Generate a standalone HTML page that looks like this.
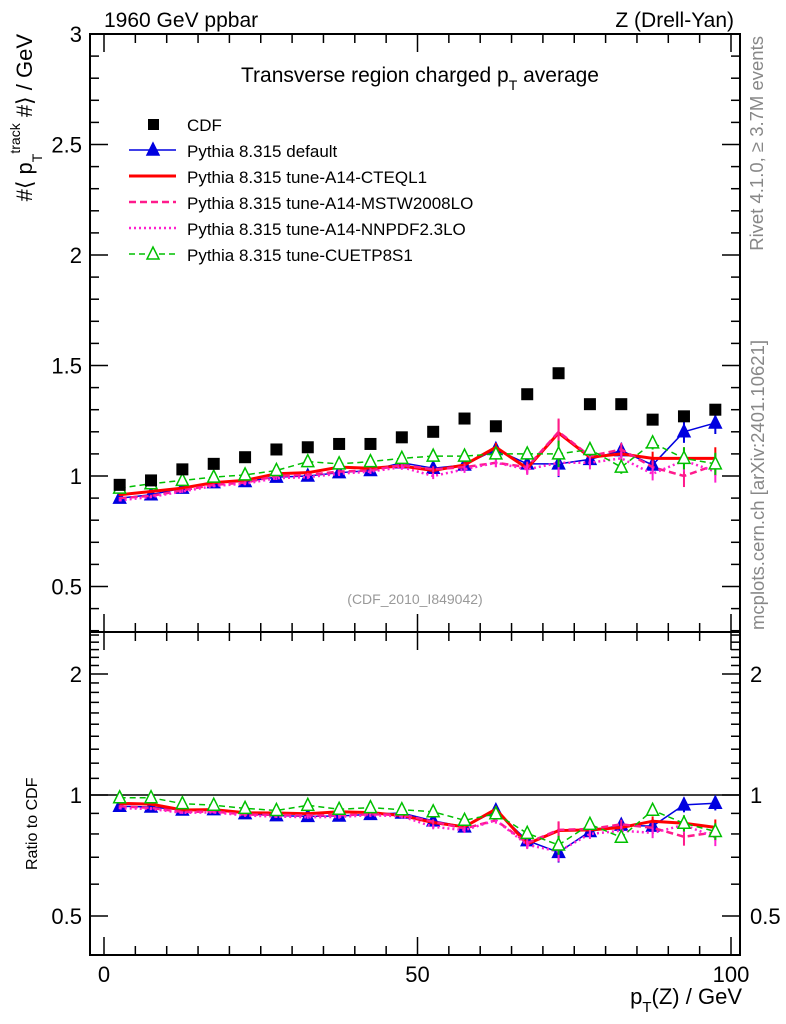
<!DOCTYPE html>
<html><head><meta charset="utf-8"><style>
body{margin:0;background:#fff;}
svg{display:block;font-family:"Liberation Sans",Arial,sans-serif;}
</style></head><body>
<svg id="c" width="786" height="1024" viewBox="0 0 786 1024"></svg>
<script>
const ptBins=[2.5,7.5,12.5,17.5,22.5,27.5,32.5,37.5,42.5,47.5,52.5,57.5,62.5,67.5,72.5,77.5,82.5,87.5,92.5,97.5];
const cdfVals=[0.96,0.98,1.03,1.055,1.085,1.12,1.13,1.145,1.145,1.175,1.20,1.26,1.225,1.37,1.465,1.325,1.325,1.255,1.27,1.30];
const defVals=[0.90,0.915,0.945,0.97,0.975,0.995,1.0,1.015,1.025,1.06,1.035,1.05,1.12,1.055,1.055,1.075,1.115,1.05,1.20,1.24];
const cteqVals=[0.915,0.93,0.945,0.97,0.98,1.01,1.015,1.04,1.035,1.045,1.025,1.05,1.13,1.035,1.195,1.085,1.10,1.08,1.08,1.08];
const mstwVals=[0.90,0.91,0.935,0.96,0.97,1.0,1.005,1.02,1.025,1.05,1.03,1.04,1.06,1.04,1.20,1.09,1.12,1.04,1.0,1.05];
const nnpdfVals=[0.89,0.905,0.93,0.955,0.965,0.99,0.995,1.01,1.02,1.04,1.0,1.03,1.06,1.03,1.06,1.06,1.08,1.01,1.07,1.02];
const cuetVals=[0.945,0.965,0.98,0.995,1.005,1.025,1.065,1.055,1.065,1.08,1.09,1.09,1.10,1.10,1.10,1.12,1.04,1.15,1.08,1.055];
const mcErr=[0.005,0.005,0.006,0.006,0.007,0.008,0.009,0.01,0.011,0.012,0.014,0.016,0.02,0.025,0.06,0.03,0.03,0.03,0.05,0.05];
const mainTicks=[0.5,1,1.5,2,2.5,3];
const ratioTicks=[0.5,1,2];
const xTicks=[0,50,100];

const NS='http://www.w3.org/2000/svg';
const svg=document.getElementById('c');
function el(t,a,p){const e=document.createElementNS(NS,t);for(const k in a)e.setAttribute(k,a[k]);(p||svg).appendChild(e);return e;}
const X=v=>104+v*6.27;
const Y=v=>476-(v-1)*221;
const R=v=>795-Math.log2(v)*121;
const L=90,Rr=740,T=34,MB=632,B=955;

const fm=el('rect',{x:L,y:T,width:Rr-L,height:MB-T,fill:'none',stroke:'#000','stroke-width':2});

const fr=el('rect',{x:L,y:MB,width:Rr-L,height:B-MB,fill:'none',stroke:'#000','stroke-width':2});


for(let v=0;v<=100;v+=5){const big=v%50===0;const l=big?18:9;
 [[T,1],[MB,-1],[MB,1],[B,-1]].forEach(([y0,d])=>el('line',{x1:X(v),x2:X(v),y1:y0,y2:y0+d*l,stroke:'#000','stroke-width':1.5}));}
xTicks.forEach(v=>{const t=el('text',{x:X(v),y:982,'text-anchor':'middle','font-size':22});t.textContent=v;
 });
for(let v=0.3;v<=3.001;v+=0.1){const vv=Math.round(v*10)/10;const big=Math.abs(vv*2-Math.round(vv*2))<1e-6;const l=big?18:9;
 el('line',{x1:L,x2:L+l,y1:Y(vv),y2:Y(vv),stroke:'#000','stroke-width':1.5});
 el('line',{x1:Rr,x2:Rr-l,y1:Y(vv),y2:Y(vv),stroke:'#000','stroke-width':1.5});}
mainTicks.forEach(v=>{const t=el('text',{x:82,y:Y(v)+8,'text-anchor':'end','font-size':22});t.textContent=String(v);
 });
[0.4,0.5,0.6,0.7,0.8,0.9,1,1.1,1.2,1.3,1.4,1.5,1.6,1.7,1.8,1.9,2,2.1,2.2,2.3,2.4,2.5].forEach(v=>{
 const big=ratioTicks.includes(v);const l=big?18:9;
 el('line',{x1:L,x2:L+l,y1:R(v),y2:R(v),stroke:'#000','stroke-width':1.5});
 el('line',{x1:Rr,x2:Rr-l,y1:R(v),y2:R(v),stroke:'#000','stroke-width':1.5});});
ratioTicks.forEach(v=>{[[82,'end'],[750,'start']].forEach(([x,a])=>{const t=el('text',{x:x,y:R(v)+8,'text-anchor':a,'font-size':22});t.textContent=String(v);
 });});
el('line',{x1:L,x2:Rr,y1:R(1),y2:R(1),stroke:'#000','stroke-width':1.5});

function txt(s,a,name){const t=el('text',a);t.innerHTML=s;return t;}
txt('1960 GeV ppbar',{x:104,y:27,'font-size':21},'energy-label');
txt('Z (Drell-Yan)',{x:734,y:27,'font-size':21,'text-anchor':'end'},'process-label');
txt('Transverse region charged p<tspan dy="8" font-size="14">T</tspan><tspan dy="-8"> average</tspan>',{x:420,y:82,'font-size':21,'text-anchor':'middle'},'plot-title');
txt('(CDF_2010_I849042)',{x:415,y:604,'font-size':14,fill:'#999','text-anchor':'middle'},'analysis-label');
txt('p<tspan dy="8" font-size="15">T</tspan><tspan dy="-8">(Z) / GeV</tspan>',{x:742,y:1004,'font-size':22,'text-anchor':'end'},'x-axis-title');
txt('#⟨ p<tspan dy="10" font-size="14">T</tspan><tspan dy="-22" font-size="14">track</tspan><tspan dy="12"> #⟩ / GeV</tspan>',{x:0,y:0,'font-size':22,'text-anchor':'end',transform:'translate(32,34) rotate(-90)'},'y-axis-title');
txt('Ratio to CDF',{x:0,y:0,'font-size':16,'text-anchor':'start',transform:'translate(37,870) rotate(-90)'},'ratio-axis-title');
txt('Rivet 4.1.0, ≥ 3.7M events',{x:0,y:0,'font-size':18.5,fill:'#888','text-anchor':'end',transform:'translate(763,36) rotate(-90)'},'rivet-label');
txt('mcplots.cern.ch [arXiv:2401.10621]',{x:0,y:0,'font-size':18.5,fill:'#888',transform:'translate(764,630) rotate(-90)'},'mcplots-label');

const series=[
 {name:'default',vals:defVals,col:'#0000e0',w:1.5,dash:'',mk:'tri'},
 {name:'cteql1',vals:cteqVals,col:'#ff0000',w:3,dash:'',mk:'none'},
 {name:'mstw',vals:mstwVals,col:'#ff1a8c',w:2.5,dash:'7,4',mk:'none'},
 {name:'nnpdf',vals:nnpdfVals,col:'#ff20d0',w:2.5,dash:'2,3',mk:'none'},
 {name:'cuetp8s1',vals:cuetVals,col:'#00c000',w:1.5,dash:'6,4',mk:'otri'}];
function tri(g,x,y,c,fill){el('polygon',{points:`${x},${y-7} ${x-6},${y+5} ${x+6},${y+5}`,fill:fill?c:'#fff',stroke:c,'stroke-width':1.5},g);}
function drawSet(fy,ratio){
 series.forEach(s=>{
  const g=el('g',{});
  const v=s.vals.map((y,i)=>ratio?y/cdfVals[i]:y);
  const e=mcErr.map((x,i)=>ratio?x/cdfVals[i]:x);
  v.forEach((y,i)=>{el('line',{x1:X(ptBins[i]),x2:X(ptBins[i]),y1:fy(y-e[i]),y2:fy(y+e[i]),stroke:s.col,'stroke-width':2},g);});
  el('polyline',{points:v.map((y,i)=>X(ptBins[i])+','+fy(y)).join(' '),fill:'none',stroke:s.col,'stroke-width':s.w,'stroke-dasharray':s.dash},g);
  v.forEach((y,i)=>{if(s.mk==='tri')tri(g,X(ptBins[i]),fy(y),s.col,true);else if(s.mk==='otri')tri(g,X(ptBins[i]),fy(y),s.col,false);});
 });}
drawSet(Y,false);drawSet(R,true);
const cg=el('g',{});
cdfVals.forEach((y,i)=>{const r=el('rect',{x:X(ptBins[i])-6,y:Y(y)-6,width:12,height:12,fill:'#000'},cg);
 });

const lg=el('g',{});
const labels=['CDF','Pythia 8.315 default','Pythia 8.315 tune-A14-CTEQL1','Pythia 8.315 tune-A14-MSTW2008LO','Pythia 8.315 tune-A14-NNPDF2.3LO','Pythia 8.315 tune-CUETP8S1'];
labels.forEach((s,i)=>{const y=124+i*26;
 const t=el('text',{x:187,y:y+7,'font-size':17},lg);t.textContent=s;
 
 if(i===0){el('rect',{x:148,y:y-5,width:11,height:11,fill:'#000'},lg);}
 else{const se=series[i-1];el('line',{x1:129,x2:176,y1:y,y2:y,stroke:se.col,'stroke-width':se.w,'stroke-dasharray':se.dash},lg);
  if(se.mk==='tri')tri(lg,153,y,se.col,true);if(se.mk==='otri')tri(lg,153,y,se.col,false);}
});
</script>
</body></html>
